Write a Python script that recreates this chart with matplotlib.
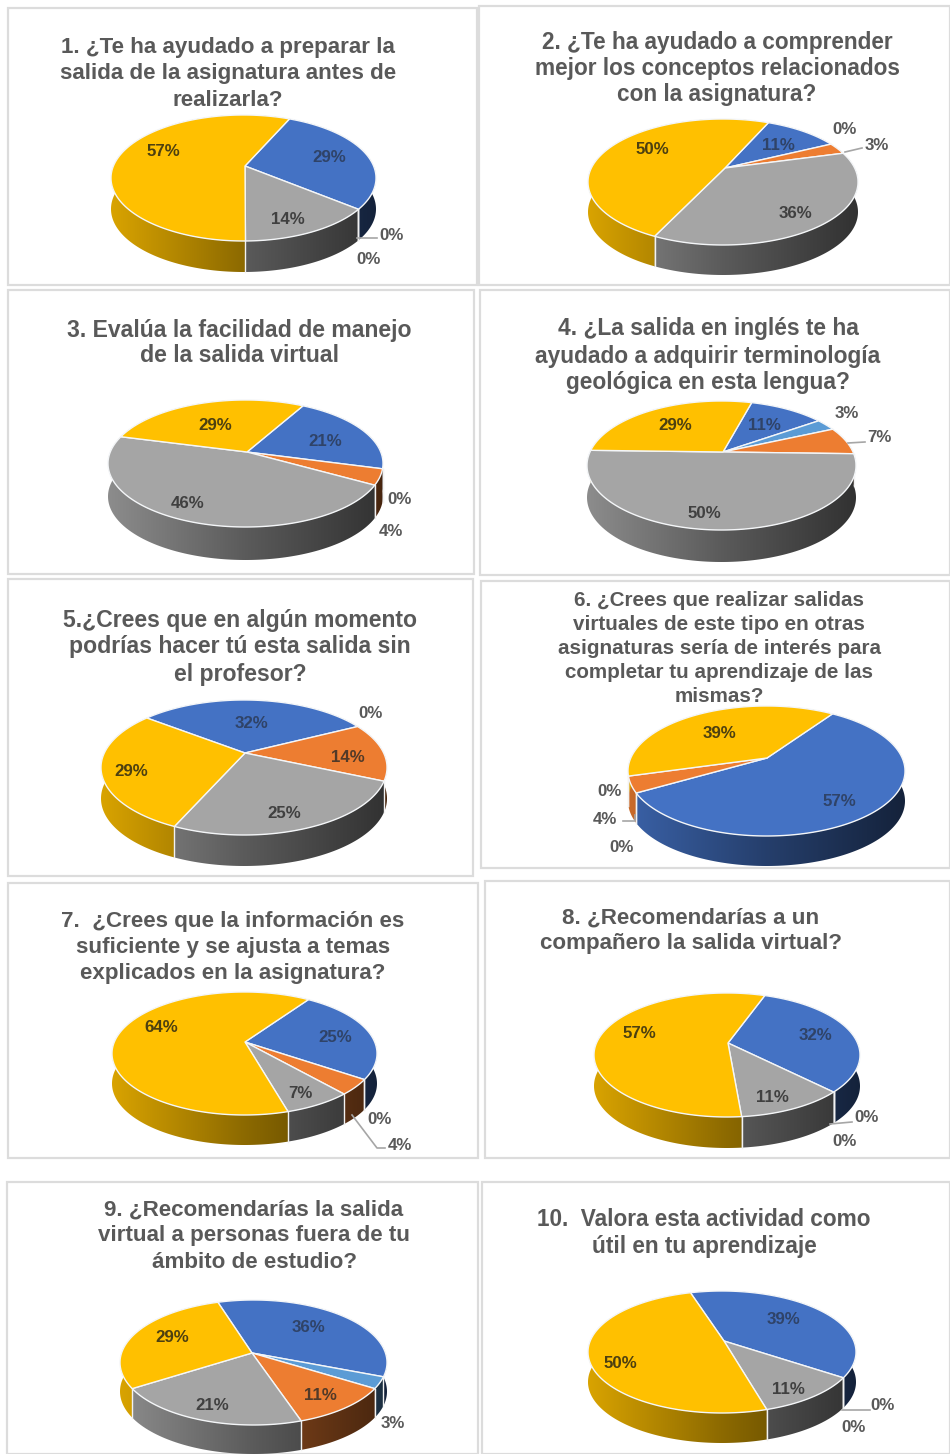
import numpy as np
import matplotlib
matplotlib.use("Agg")
import matplotlib.pyplot as plt
from matplotlib.patches import Polygon, Rectangle
from matplotlib.colors import to_rgb

plt.rcParams['font.family'] = ['Liberation Sans', 'DejaVu Sans']

# Survey answers, in drawing order clockwise from the start angle
SERIES_COLORS = ['#4472C4', '#5B9BD5', '#ED7D31', '#A5A5A5', '#FFC000']
LABEL_COLORS = ['#2f4368', '#404040', '#523a28', '#404040', '#4d4010']
OUTSIDE_COLOR = '#595959'

q1 = [29, 0, 0, 14, 57]
q2 = [11, 0, 3, 36, 50]
q3 = [21, 0, 4, 46, 29]
q4 = [11, 3, 7, 50, 29]
q5 = [32, 0, 14, 25, 29]
q6 = [57, 0, 4, 0, 39]
q7 = [25, 0, 4, 7, 64]
q8 = [32, 0, 0, 11, 57]
q9 = [36, 3, 11, 21, 29]
q10 = [39, 0, 0, 11, 50]
answers = [q1, q2, q3, q4, q5, q6, q7, q8, q9, q10]

titles = [
    ["1. ¿Te ha ayudado a preparar la", "salida de la asignatura antes de", "realizarla?"],
    ["2. ¿Te ha ayudado a comprender", "mejor los conceptos relacionados", "con la asignatura?"],
    ["3. Evalúa la facilidad de manejo", "de la salida virtual"],
    ["4. ¿La salida en inglés te ha", "ayudado a adquirir terminología", "geológica en esta lengua?"],
    ["5.¿Crees que en algún momento", "podrías hacer tú esta salida sin", "el profesor?"],
    ["6. ¿Crees que realizar salidas", "virtuales de este tipo en otras", "asignaturas sería de interés para",
     "completar tu aprendizaje de las", "mismas?"],
    ["7.  ¿Crees que la información es", "suficiente y se ajusta a temas", "explicados en la asignatura?"],
    ["8. ¿Recomendarías a un", "compañero la salida virtual?"],
    ["9. ¿Recomendarías la salida", "virtual a personas fuera de tu", "ámbito de estudio?"],
    ["10.  Valora esta actividad como", "útil en tu aprendizaje"],
]

# Layout in pixel coordinates of the page
panels = [(8, 8, 477, 285), (479, 6, 950, 285), (8, 290, 474, 574), (480, 290, 950, 575),
          (8, 579, 473, 876), (481, 581, 950, 868), (8, 883, 478, 1158), (485, 881, 950, 1158),
          (7, 1182, 478, 1454), (482, 1182, 950, 1454)]
title_layout = [(228, [48, 74, 100], 16.1), (717, [42, 69, 95], 16.3), (239, [330, 356], 16.6),
                (708, [329, 356, 383], 16.4), (240, [620, 647, 674], 16.6),
                (719, [600, 624, 648, 672, 696], 14.9), (233, [921, 947, 973], 16.1),
                (691, [918, 944], 16.1), (254, [1210, 1236, 1262], 16.1), (704, [1220, 1246], 16.3)]
# apex x, apex y, left, right, top, bottom of the upper face, rim depth, start angle
pie_layout = [
    (245, 166, 111, 376, 115, 241, 31, 24.5),
    (725, 168, 588, 858, 119, 245, 30, 24.5),
    (247, 452, 108, 383, 400, 527, 33, 29.5),
    (723, 452, 587, 856, 401, 530, 32, 16),
    (245, 753, 101, 387, 700, 835, 31, -52),
    (767, 758, 628, 905, 706, 836, 30, 34.5),
    (245, 1042, 112, 377, 992, 1115, 30, 34.5),
    (728, 1043, 594, 860, 993, 1117, 31, 20),
    (252, 1353, 120, 387, 1300, 1425, 29, -18),
    (724, 1341, 588, 856, 1291, 1413, 30, -16.3),
]
label_layout = [
    [(329, 158), (392, 235), (369, 259), (288, 219), (163, 151)],
    [(778, 146), (845, 130), (877, 146), (795, 213), (652, 150)],
    [(325, 442), (400, 500), (391, 531), (188, 504), (215, 425)],
    [(764, 425), (847, 414), (879, 438), (704, 514), (675, 425)],
    [(251, 723), (371, 714), (348, 758), (284, 814), (131, 772)],
    [(839, 801), (610, 792), (605, 819), (622, 847), (719, 734)],
    [(335, 1037), (380, 1119), (400, 1145), (300, 1093), (161, 1028)],
    [(815, 1036), (867, 1118), (845, 1141), (772, 1097), (639, 1033)],
    [(308, 1327), (393, 1423), (320, 1396), (212, 1405), (172, 1338)],
    [(783, 1319), (883, 1405), (854, 1427), (788, 1389), (620, 1364)],
]
leaders = [
    [(357, 238), (377, 238)],
    [(845, 152), (862, 148)],
    [],
    [(848, 443), (865, 442)],
    [],
    [(623, 821), (635, 821), (635, 815)],
    [(352, 1115), (377, 1148), (385, 1148)],
    [(830, 1124), (852, 1122)],
    [],
    [(842, 1410), (870, 1410)],
]

fig = plt.figure(figsize=(9.5, 14.54), dpi=100, facecolor='white')
ax = fig.add_axes([0, 0, 1, 1])


def rim_gradient(color):
    """Horizontal ramp for the rim: lighter on the left, darker on the right."""
    frac = np.linspace(0, 1, 256)
    shade = np.where(frac < 0.5, 0.85 - 0.6 * frac, 0.55 - 0.5 * (frac - 0.5))
    return (np.array(to_rgb(color))[None, None, :] * shade[None, :, None])


def draw_pie(values, layout):
    apx, apy, left, right, top, bottom, depth, start = layout
    # Perspective of a tilted disc: the far half is foreshortened against the near half
    up, down = apy - top, bottom - apy
    k = (down - up) / (down + up)
    sy = up * (1 + k)
    sx = (right - left) / 2 * np.sqrt(1 - k * k)
    cx = (left + right) / 2

    def point(deg):
        t = np.radians(deg)
        u, v = np.sin(t), np.cos(t)
        w = 1 + k * v
        return cx + sx * u / w, apy - sy * v / w

    bounds = start + np.cumsum([0] + [360 * v / sum(values) for v in values])

    # Rim first; the upper face is painted over its hidden part
    for i, val in enumerate(values):
        if val == 0:
            continue
        angs = np.linspace(bounds[i], bounds[i + 1], max(3, int(val * 3.6)))
        xs, ys = point(angs)
        band = list(zip(xs, ys)) + list(zip(xs[::-1], ys[::-1] + depth))
        clip = Polygon(band, closed=True, transform=ax.transData, fc='none', ec='none')
        ax.add_patch(clip)
        im = ax.imshow(rim_gradient(SERIES_COLORS[i]), extent=(left, right, bottom + depth, top),
                       aspect='auto', interpolation='bilinear', zorder=2)
        im.set_clip_path(clip)
    for b in bounds[:-1]:
        if np.cos(np.radians(b)) < 0:
            x0, y0 = point(b)
            ax.plot([x0, x0], [y0, y0 + depth], color='#f2f2f2', lw=1.0, zorder=3)

    # Upper face
    for i, val in enumerate(values):
        if val == 0:
            continue
        angs = np.linspace(bounds[i], bounds[i + 1], max(3, int(val * 3.6)))
        xs, ys = point(angs)
        pts = [(apx, apy)] + list(zip(xs, ys))
        ax.add_patch(Polygon(pts, closed=True, fc=SERIES_COLORS[i], ec='#f4f6f8', lw=1.0,
                             joinstyle='round', zorder=4))


for box in panels:
    x0, y0, x1, y1 = box
    ax.add_patch(Rectangle((x0, y0), x1 - x0, y1 - y0, fc='white', ec='#dcdcdc', lw=1.6, zorder=1))

for n, values in enumerate(answers):
    geom = pie_layout[n]
    draw_pie(values, geom)
    if leaders[n]:
        xs, ys = zip(*leaders[n])
        ax.plot(xs, ys, color='#a6a6a6', lw=1.2, zorder=5)
    cxp, cyp = (geom[2] + geom[3]) / 2, (geom[4] + geom[5]) / 2
    rxp, ryp = (geom[3] - geom[2]) / 2, (geom[5] - geom[4]) / 2
    for i, val in enumerate(values):
        x, y = label_layout[n][i]
        on_face = ((x - cxp) / rxp) ** 2 + ((y - cyp) / ryp) ** 2 < 1
        ax.text(x, y, f"{val}%", ha='center', va='center', fontsize=12.2, fontweight='bold',
                color=LABEL_COLORS[i] if on_face else OUTSIDE_COLOR, zorder=6)
    cx, ys, size = title_layout[n]
    for line, y in zip(titles[n], ys):
        ax.text(cx, y, line, ha='center', va='center', fontsize=size, fontweight='bold',
                color='#595959', zorder=6)

ax.set_xlim(0, 950)
ax.set_ylim(1454, 0)
ax.axis('off')
fig.savefig('out.png', dpi=100, facecolor='white')
